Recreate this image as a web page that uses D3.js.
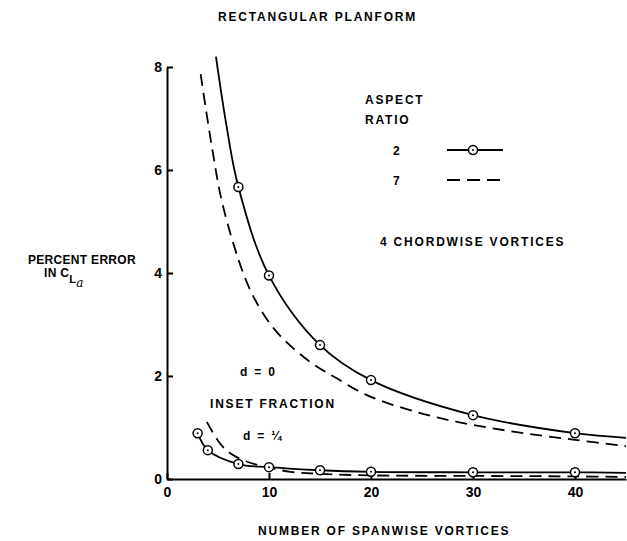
<!DOCTYPE html>
<html>
<head>
<meta charset="utf-8">
<script src="https://cdn.jsdelivr.net/npm/d3@7"></script>
<style>
  body { margin: 0; background: #fff; }
  svg { display: block; font-family: 'Liberation Sans', Arial, sans-serif; }
  .lbl { font-size: 12px; font-weight: bold; letter-spacing: 1.8px; fill: #000; }
  .axis text { font-size: 14px; font-weight: bold; fill: #000; font-family: 'Liberation Sans', Arial, sans-serif; }
  .axis path, .axis line { stroke: #000; stroke-width: 2; }
</style>
</head>
<body>
<svg id="chart"></svg>
<script>
// aspect ratio 2, d = 0 (solid, circles)
const ar2D0X = [4.8, 5.8, 7, 10, 15, 20, 30, 40, 45];
const ar2D0Y = [8.2, 6.9, 5.67, 3.95, 2.60, 1.92, 1.24, 0.89, 0.80];
const ar2D0MarkX = [7, 10, 15, 20, 30, 40];
const ar2D0MarkY = [5.67, 3.95, 2.60, 1.92, 1.24, 0.89];

// aspect ratio 7, d = 0 (dashed)
const ar7D0X = [3.3, 4.4, 5.5, 7.6, 9, 10.6, 12.2, 14.2, 16.5, 19.7, 25, 30, 35, 40, 45];
const ar7D0Y = [7.86, 6.45, 5.29, 3.93, 3.35, 2.89, 2.57, 2.25, 1.97, 1.62, 1.27, 1.05, 0.89, 0.76, 0.64];

// aspect ratio 2, d = 1/4
const ar2D4X = [3, 4, 7, 10, 15, 20, 30, 40, 45];
const ar2D4Y = [0.89, 0.56, 0.29, 0.23, 0.17, 0.14, 0.13, 0.13, 0.12];
const ar2D4MarkX = [3, 4, 7, 10, 15, 20, 30, 40];
const ar2D4MarkY = [0.89, 0.56, 0.29, 0.23, 0.17, 0.14, 0.13, 0.13];

// aspect ratio 7, d = 1/4
const ar7D4X = [3.9, 5.2, 6.2, 7.8, 9.8, 12.1, 15, 20, 30, 40, 45];
const ar7D4Y = [1.11, 0.69, 0.50, 0.34, 0.23, 0.14, 0.10, 0.07, 0.06, 0.05, 0.04];

const xTicks = [0, 10, 20, 30, 40];
const yTicks = [0, 2, 4, 6, 8];
const legendLabels = ['2', '7'];

const width = 627, height = 541;
const svg = d3.select('#chart').attr('width', width).attr('height', height);

const x = d3.scaleLinear().domain([0, 45]).range([167, 626]);
const y = d3.scaleLinear().domain([0, 8]).range([479, 67]);

const zip = (xs, ys) => xs.map((v, i) => [v, ys[i]]);
const line = d3.line().x(d => x(d[0])).y(d => y(d[1])).curve(d3.curveCatmullRom.alpha(0.5));
const dash = '12,7';

// axes, ticks point inward
svg.append('g')
  .attr('class', 'axis')
  .attr('transform', `translate(0,${y(0)})`)
  .call(d3.axisBottom(x).tickValues(xTicks).tickSize(-6).tickSizeOuter(0).tickPadding(8));

svg.append('g')
  .attr('class', 'axis')
  .attr('transform', `translate(${x(0)},0)`)
  .call(d3.axisLeft(y).tickValues(yTicks).tickSize(-6).tickSizeOuter(0).tickPadding(5));

const curves = [
  { pts: zip(ar2D0X, ar2D0Y), dashed: false },
  { pts: zip(ar7D0X, ar7D0Y), dashed: true },
  { pts: zip(ar2D4X, ar2D4Y), dashed: false },
  { pts: zip(ar7D4X, ar7D4Y), dashed: true }
];

svg.selectAll('.curve')
  .data(curves)
  .enter().append('path')
  .attr('class', 'curve')
  .attr('d', d => line(d.pts))
  .attr('fill', 'none')
  .attr('stroke', '#000')
  .attr('stroke-width', 1.8)
  .attr('stroke-dasharray', d => d.dashed ? dash : null);

function marker(g, cx, cy) {
  g.append('circle').attr('cx', cx).attr('cy', cy).attr('r', 4.5)
    .attr('fill', '#fff').attr('stroke', '#000').attr('stroke-width', 1.5);
  g.append('circle').attr('cx', cx).attr('cy', cy).attr('r', 1).attr('fill', '#000');
}

const markers = svg.append('g');
zip(ar2D0MarkX, ar2D0MarkY).concat(zip(ar2D4MarkX, ar2D4MarkY))
  .forEach(d => marker(markers, x(d[0]), y(d[1])));

// legend
const legend = svg.append('g');
legend.append('text').attr('class', 'lbl').attr('x', 365).attr('y', 104).text('ASPECT');
legend.append('text').attr('class', 'lbl').attr('x', 365).attr('y', 124).text('RATIO');
legendLabels.forEach((lab, i) => {
  const ly = 150 + i * 30;
  legend.append('text').attr('class', 'lbl').attr('x', 393).attr('y', ly + 4.5).text(lab);
  legend.append('line')
    .attr('x1', 447).attr('x2', 503).attr('y1', ly).attr('y2', ly)
    .attr('stroke', '#000').attr('stroke-width', 1.8)
    .attr('stroke-dasharray', i === 1 ? '13,7' : null);
  if (i === 0) marker(legend, 473, ly);
});

// annotations
svg.append('text').attr('class', 'lbl').attr('x', 218).attr('y', 21).text('RECTANGULAR PLANFORM');
svg.append('text').attr('class', 'lbl').attr('x', 380).attr('y', 246).text('4 CHORDWISE VORTICES');
svg.append('text').attr('class', 'lbl').attr('x', 240).attr('y', 376).text('d = 0');
svg.append('text').attr('class', 'lbl').attr('x', 210).attr('y', 408).text('INSET FRACTION');
svg.append('text').attr('class', 'lbl').attr('x', 243).attr('y', 440).text('d = ¼');
svg.append('text').attr('class', 'lbl').attr('x', 258).attr('y', 535).text('NUMBER OF SPANWISE VORTICES');

svg.append('text').attr('class', 'lbl').attr('x', 28).attr('y', 264)
  .style('letter-spacing', '0.3px').text('PERCENT ERROR');
const yl = svg.append('text').attr('class', 'lbl').attr('x', 44).attr('y', 277).style('letter-spacing', '0.3px');
yl.append('tspan').text('IN C');
yl.append('tspan').attr('dy', 6).style('font-size', '11px').text('L');
yl.append('tspan').attr('dy', 4).style('font-size', '12px').style('font-style', 'italic')
  .style('font-weight', 'normal').style('font-family', "'DejaVu Serif', serif").text('a');
</script>
</body>
</html>
